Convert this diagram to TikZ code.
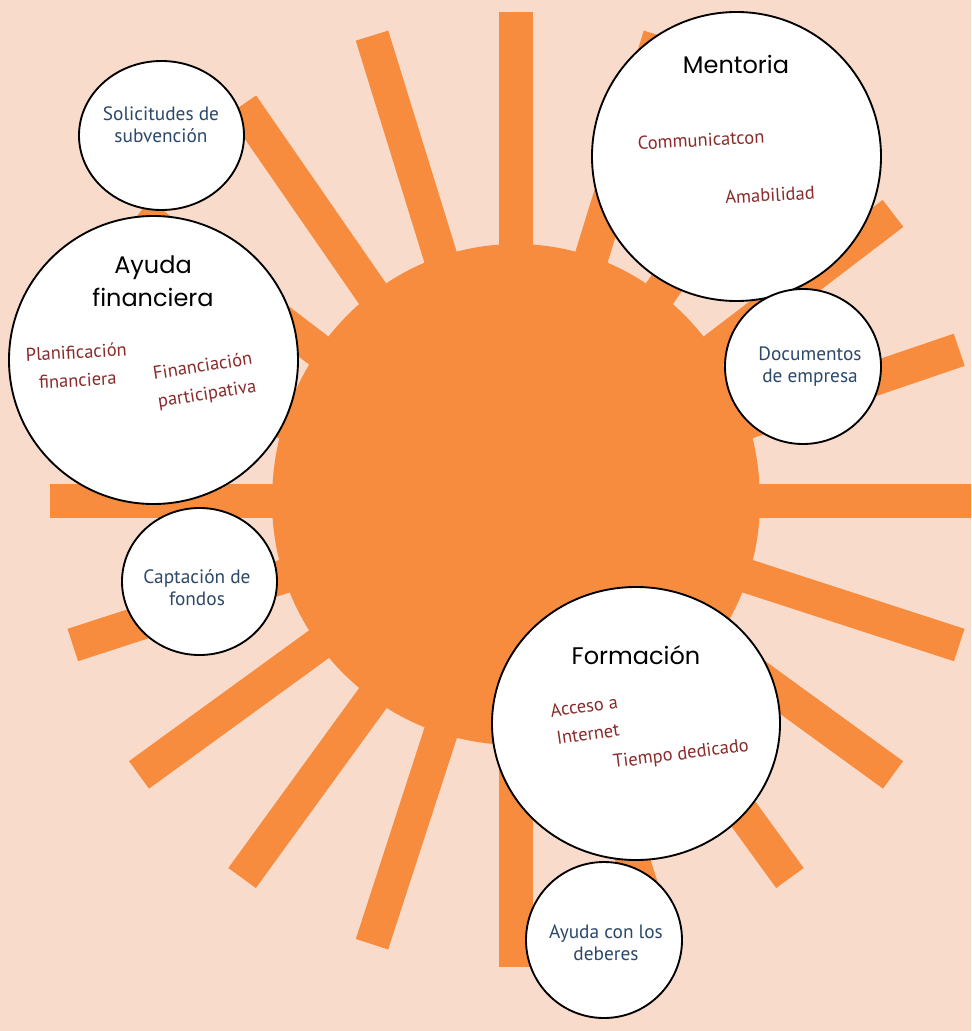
\documentclass[tikz,border=0pt]{standalone}
\usepackage{fontspec}
\setmainfont{Poppins}
\newfontfamily\handfont{PT Sans}
\usetikzlibrary{shapes.geometric}
\definecolor{bgpeach}{RGB}{249,219,203}
\definecolor{sunorange}{RGB}{247,139,62}
\definecolor{itemred}{RGB}{138,43,43}
\definecolor{itemblue}{RGB}{44,72,107}
\newcommand\pxu{0.75pt}
\begin{document}
\begin{tikzpicture}[x=0.75pt,y=-0.75pt,
  ray/.style={sunorange, line width=25.5pt},
  bubble/.style={ellipse, draw=black, fill=white, line width=1.4pt, inner sep=0pt},
  title/.style={font=\fontsize{18}{24.75}\selectfont, align=center, text=black},
  item/.style={font=\handfont\fontsize{13.9}{21}\selectfont, align=center, text=itemred, inner sep=0pt},
  sub/.style={font=\handfont\fontsize{14.5}{16.5}\selectfont, align=center, text=itemblue}]
\fill[bgpeach] (0,0) rectangle (971,1031);
\useasboundingbox (0,0) rectangle (971,1031);
\clip (0,0) rectangle (971,1031);
\coordinate (sun) at (516,501);
% rays
\foreach \k in {0,...,19}{
  \pgfmathsetmacro\ang{18*\k}
  \pgfmathsetmacro\sc{sin(\ang)>0.01?1.05:1}
  \draw[ray] (sun) -- ++({466*cos(\ang)},{-466*sin(\ang)*\sc});
}
% disk
\fill[sunorange] (272,501) arc[start angle=180, end angle=360, x radius=244, y radius=257]
  arc[start angle=0, end angle=180, radius=244] -- cycle;
% bubbles
\node[bubble, minimum width=165*\pxu, minimum height=149*\pxu] (sol) at (161.5,135.5) {};
\node[bubble, minimum width=289*\pxu, minimum height=288*\pxu] (ayu) at (153.5,360) {};
\node[bubble, minimum width=155*\pxu, minimum height=147*\pxu] (cap) at (199.5,581.5) {};
\node[bubble, minimum width=289*\pxu, minimum height=289*\pxu] (men) at (736.5,156.5) {};
\node[bubble, minimum width=156*\pxu, minimum height=155*\pxu] (doc) at (803,366.5) {};
\node[bubble, minimum width=288*\pxu, minimum height=273*\pxu] (for) at (636,723.5) {};
\node[bubble, minimum width=156*\pxu, minimum height=156*\pxu] (deb) at (604,940) {};
% titles
\node[title] (tayu) at (153,281) {Ayuda\\financiera};
\node[title] (tmen) at (736,64) {Mentoria};
\node[title] (tfor) at (636,655) {Formación};
% sub-topics
\node[sub] (tsol) at (161,125) {Solicitudes de\\subvención};
\node[sub] (tdoc) at (810,367) {Documentos\\de empresa};
\node[sub] (tcap) at (197,588) {Captación de\\fondos};
\node[sub] (tdeb) at (606,943) {Ayuda con los\\deberes};
% items
\node[item, rotate=3] (ipla) at (77,366) {Planificación\\financiera};
\node[item, rotate=9] (ifin) at (205,381) {Financiación\\participativa};
\node[item, rotate=3] (icom) at (701,140) {Communicatcon};
\node[item, rotate=3] (iama) at (770,195) {Amabilidad};
\node[item, rotate=8] (iacc) at (586,720) {Acceso a\\Internet};
\node[item, rotate=7] (itie) at (681,755) {Tiempo dedicado};
\end{tikzpicture}
\end{document}
